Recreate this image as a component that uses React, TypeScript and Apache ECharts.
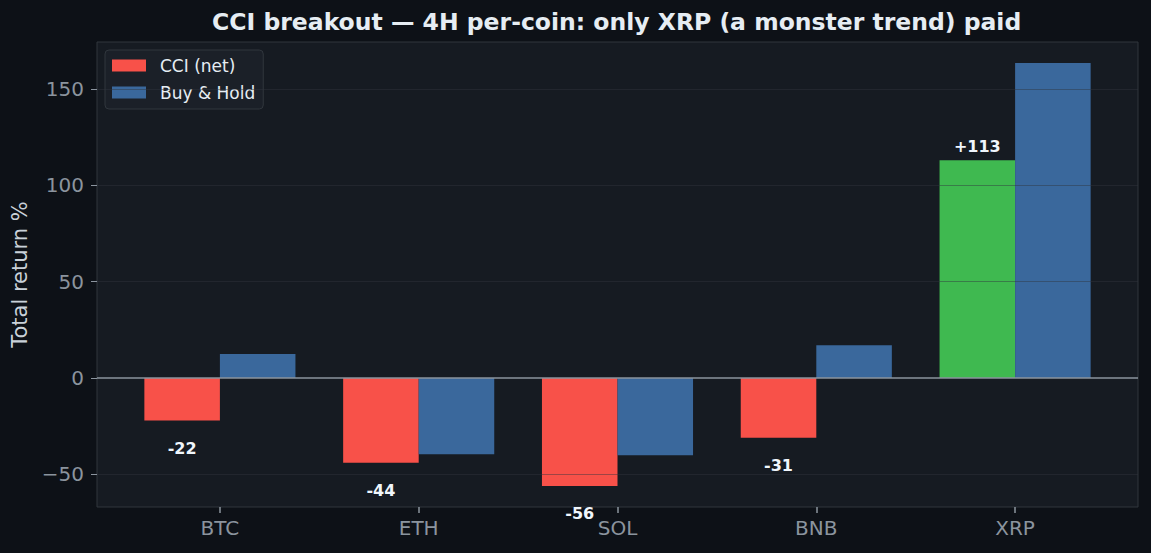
import React, { useEffect, useRef } from "react";
import * as echarts from "echarts";

const categories = ["BTC", "ETH", "SOL", "BNB", "XRP"];
const cciNet = [-22, -44, -56, -31, 113];
const buyHold = [12.5, -39.5, -40, 17, 163.5];
const yTicks = [-50, 0, 50, 100, 150];
const yMin = -66.9;
const yMax = 174.4;
const xPad = 0.1182; // extra category-space margin beyond the half-slot on each side

const FONT = "DejaVu Sans";
const RED = "#f85149";
const GREEN = "#3fb950";
const BLUE = "#3a689c";
const TICK = "#8b949e";

export default function App() {
  const ref = useRef<HTMLDivElement>(null);

  useEffect(() => {
    if (!ref.current) return;
    const chart = echarts.init(ref.current, undefined, { renderer: "svg" });

    const catIdx = categories.map((_, i) => i);

    const gridLines = yTicks
      .filter((v) => v !== 0)
      .map((v) => ({
        yAxis: v,
        lineStyle: { color: "#30363d", width: 1, type: "solid", opacity: 0.45 },
      }));
    const zeroLine = {
      yAxis: 0,
      lineStyle: { color: TICK, width: 1.5, type: "solid", opacity: 1 },
    };

    chart.setOption({
      animation: false,
      backgroundColor: "#0d1117",
      textStyle: { fontFamily: FONT },
      title: {
        text: "CCI breakout — 4H per-coin: only XRP (a monster trend) paid",
        left: 212,
        top: 10,
        padding: 0,
        textStyle: {
          color: "#e6edf3",
          fontSize: 23.5,
          fontWeight: "bold",
          fontFamily: FONT,
        },
      },
      legend: {
        data: ["CCI (net)", "Buy & Hold"],
        orient: "vertical",
        left: 105,
        top: 50,
        padding: [7, 8, 8, 7],
        itemWidth: 34,
        itemHeight: 12,
        itemGap: 10,
        backgroundColor: "#1b2028",
        borderColor: "#30363d",
        borderWidth: 1,
        borderRadius: 4,
        icon: "rect",
        textStyle: {
          color: "#e6edf3",
          fontSize: 17,
          fontFamily: FONT,
          padding: [0, 0, 0, 9],
        },
      },
      grid: [
        {
          left: 97,
          right: 13,
          top: 42,
          bottom: 46,
          show: true,
          backgroundColor: "#161b22",
          borderColor: "#30363d",
          borderWidth: 1,
        },
        {
          left: 120.5,
          right: 36.5,
          top: 42,
          bottom: 46,
        },
      ],
      xAxis: [
        {
          type: "value",
          gridIndex: 0,
          min: -0.5 - xPad,
          max: categories.length - 0.5 + xPad,
          axisLine: { show: false, onZero: false },
          axisTick: {
            show: true,
            inside: false,
            length: 6,
            customValues: catIdx,
            lineStyle: { color: TICK, width: 1.5 },
          },
          axisLabel: {
            customValues: catIdx,
            color: TICK,
            fontSize: 20,
            margin: 11,
            fontFamily: FONT,
            formatter: (v: number) => categories[Math.round(v)] ?? "",
          },
          splitLine: { show: false },
        },
        {
          type: "category",
          gridIndex: 1,
          data: categories,
          show: false,
        },
      ],
      yAxis: [
        {
          type: "value",
          gridIndex: 0,
          min: yMin,
          max: yMax,
          axisLine: { show: false, onZero: false },
          axisTick: {
            show: true,
            length: 6,
            customValues: yTicks,
            lineStyle: { color: TICK },
          },
          axisLabel: {
            customValues: yTicks,
            color: TICK,
            fontSize: 20,
            margin: 13,
            fontFamily: FONT,
            formatter: (v: number) => (v < 0 ? "\u2212" + Math.abs(v) : String(v)),
          },
          splitLine: { show: false },
          name: "Total return %",
          nameLocation: "middle",
          nameGap: 66,
          nameTextStyle: { color: "#c9d1d9", fontSize: 21, fontFamily: FONT },
        },
        {
          type: "value",
          gridIndex: 1,
          min: yMin,
          max: yMax,
          show: false,
          splitLine: { show: false },
        },
      ],
      series: [
        {
          name: "CCI (net)",
          type: "bar",
          xAxisIndex: 1,
          yAxisIndex: 1,
          barGap: "0%",
          barCategoryGap: "24%",
          itemStyle: { color: RED },
          data: cciNet.map((v) => ({
            value: v,
            itemStyle: { color: v > 0 ? GREEN : RED },
            label: { position: v >= 0 ? "top" : "bottom", distance: v >= 0 ? 6 : 20 },
          })),
          label: {
            show: true,
            color: "#f0f6fc",
            fontSize: 16,
            fontWeight: "bold",
            fontFamily: FONT,
            formatter: (p: any) => (p.value > 0 ? "+" + p.value : String(p.value)),
          },
          z: 2,
        },
        {
          name: "Buy & Hold",
          type: "bar",
          xAxisIndex: 1,
          yAxisIndex: 1,
          barGap: "0%",
          barCategoryGap: "24%",
          itemStyle: { color: BLUE },
          data: buyHold,
          z: 2,
        },
        {
          name: "lines",
          type: "line",
          xAxisIndex: 0,
          yAxisIndex: 0,
          data: [],
          silent: true,
          z: 5,
          markLine: {
            silent: true,
            symbol: "none",
            label: { show: false },
            z: 5,
            data: [...gridLines, zeroLine],
          },
        },
      ],
    });

    return () => chart.dispose();
  }, []);

  return (
    <div
      ref={ref}
      style={{ position: "fixed", left: 0, top: 0, width: 1151, height: 553 }}
    />
  );
}
